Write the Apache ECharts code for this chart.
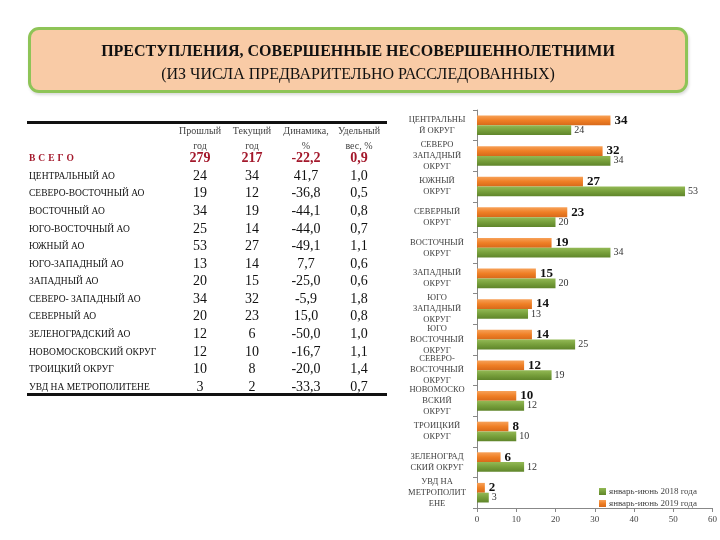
<!DOCTYPE html>
<html><head><meta charset="utf-8">
<script src="https://cdn.jsdelivr.net/npm/echarts@6/dist/echarts.min.js"></script>
<style>
html,body{margin:0;padding:0;background:#fff;}
#wrap{position:relative;width:720px;height:540px;overflow:hidden;font-family:"Liberation Serif","DejaVu Serif",serif;}
#chart{position:absolute;left:0;top:0;width:720px;height:540px;}
#title{position:absolute;left:28px;top:27px;width:654px;height:60px;border:3px solid #8ec457;border-radius:11px;background:#f9cba6;text-align:center;color:#111;box-shadow:1px 2px 3px rgba(0,0,0,0.15);}
#title .l1{position:absolute;left:0;right:0;top:12px;font-size:16px;font-weight:bold;line-height:18px;}
#title .l2{position:absolute;left:0;right:0;top:35px;font-size:16px;line-height:18px;}
#tbl{position:absolute;left:0;top:0;width:400px;height:540px;}
.hline{position:absolute;left:27px;width:360px;height:3px;background:#111;}
.cell{position:absolute;transform:translate(-50%,-50%);white-space:nowrap;}
.lab{position:absolute;left:29px;transform:translateY(-50%);white-space:nowrap;font-size:9.5px;color:#111;}
.hdr{font-size:10px;color:#444;}
.num{font-size:14px;color:#111;}
.tot{font-size:14px;color:#a3182b;font-weight:bold;}
</style></head>
<body><div id="wrap">
<div id="chart"></div>
<div id="title"><div class="l1">ПРЕСТУПЛЕНИЯ, СОВЕРШЕННЫЕ НЕСОВЕРШЕННОЛЕТНИМИ</div><div class="l2">(ИЗ ЧИСЛА ПРЕДВАРИТЕЛЬНО РАССЛЕДОВАННЫХ)</div></div>
<div id="tbl"></div>
</div>
<script>
// ---- table data ----
var tableHeaders = [["Прошлый","год"],["Текущий","год"],["Динамика,","%"],["Удельный","вес, %"]];
var totalLabel = "В С Е Г О";
var totalRow = ["279","217","-22,2","0,9"];
var tableRegions = ["ЦЕНТРАЛЬНЫЙ АО","СЕВЕРО-ВОСТОЧНЫЙ АО","ВОСТОЧНЫЙ АО","ЮГО-ВОСТОЧНЫЙ АО","ЮЖНЫЙ АО","ЮГО-ЗАПАДНЫЙ АО","ЗАПАДНЫЙ АО","СЕВЕРО- ЗАПАДНЫЙ АО","СЕВЕРНЫЙ АО","ЗЕЛЕНОГРАДСКИЙ АО","НОВОМОСКОВСКИЙ ОКРУГ","ТРОИЦКИЙ ОКРУГ","УВД НА МЕТРОПОЛИТЕНЕ"];
var tablePrev = ["24","19","34","25","53","13","20","34","20","12","12","10","3"];
var tableCurr = ["34","12","19","14","27","14","15","32","23","6","10","8","2"];
var tableDyn = ["41,7","-36,8","-44,1","-44,0","-49,1","7,7","-25,0","-5,9","15,0","-50,0","-16,7","-20,0","-33,3"];
var tableShare = ["1,0","0,5","0,8","0,7","1,1","0,6","0,6","1,8","0,8","1,0","1,1","1,4","0,7"];

// ---- chart data ----
var chartCategories = ["ЦЕНТРАЛЬНЫ\nЙ ОКРУГ","СЕВЕРО\nЗАПАДНЫЙ\nОКРУГ","ЮЖНЫЙ\nОКРУГ","СЕВЕРНЫЙ\nОКРУГ","ВОСТОЧНЫЙ\nОКРУГ","ЗАПАДНЫЙ\nОКРУГ","ЮГО\nЗАПАДНЫЙ\nОКРУГ","ЮГО\nВОСТОЧНЫЙ\nОКРУГ","СЕВЕРО-\nВОСТОЧНЫЙ\nОКРУГ","НОВОМОСКО\nВСКИЙ\nОКРУГ","ТРОИЦКИЙ\nОКРУГ","ЗЕЛЕНОГРАД\nСКИЙ ОКРУГ","УВД НА\nМЕТРОПОЛИТ\nЕНЕ"];
var series2019 = [34,32,27,23,19,15,14,14,12,10,8,6,2];
var series2018 = [24,34,53,20,34,20,13,25,19,12,10,12,3];
var name2018 = "январь-июнь 2018 года";
var name2019 = "январь-июнь 2019 года";

// ---- build table ----
(function(){
  var t = document.getElementById('tbl');
  function add(html){ t.insertAdjacentHTML('beforeend', html); }
  var colX = [200, 252, 306, 359];
  add('<div class="hline" style="top:121px"></div>');
  add('<div class="hline" style="top:393px"></div>');
  tableHeaders.forEach(function(h,i){
    add('<div class="cell hdr" style="left:'+colX[i]+'px;top:130px">'+h[0]+'</div>');
    add('<div class="cell hdr" style="left:'+colX[i]+'px;top:144.5px">'+h[1]+'</div>');
  });
  add('<div class="lab" style="top:158px;color:#a3182b;font-weight:bold;letter-spacing:0.3px;">'+totalLabel+'</div>');
  totalRow.forEach(function(v,i){
    add('<div class="cell tot" style="left:'+colX[i]+'px;top:158px">'+v+'</div>');
  });
  var y0 = 175.8, dy = 17.58;
  tableRegions.forEach(function(r,k){
    var y = y0 + k*dy;
    add('<div class="lab" style="top:'+y+'px">'+r+'</div>');
    [tablePrev[k],tableCurr[k],tableDyn[k],tableShare[k]].forEach(function(v,i){
      add('<div class="cell num" style="left:'+colX[i]+'px;top:'+y+'px">'+v+'</div>');
    });
  });
})();

// ---- chart ----
var chart = echarts.init(document.getElementById('chart'), null, {renderer:'canvas'});
var ff = '"Liberation Serif", serif';
var orangeGrad = new echarts.graphic.LinearGradient(0,0,0,1,[{offset:0,color:'#f7a158'},{offset:0.5,color:'#ef7f25'},{offset:1,color:'#d7691a'}]);
var greenGrad = new echarts.graphic.LinearGradient(0,0,0,1,[{offset:0,color:'#93b955'},{offset:0.5,color:'#779f3b'},{offset:1,color:'#5f852a'}]);
chart.setOption({
  animation:false,
  backgroundColor:'transparent',
  grid:{left:477, right:7, top:110, bottom:32, containLabel:false},
  legend:{
    orient:'vertical', left:594, top:482, itemWidth:7, itemHeight:7, itemGap:3,
    data:[{name:name2018, icon:'rect'},{name:name2019, icon:'rect'}],
    textStyle:{fontFamily:ff, fontSize:9, color:'#444', padding:[0,0,0,-2]}
  },
  xAxis:{
    type:'value', min:0, max:60, interval:10,
    axisLine:{show:true, lineStyle:{color:'#888', width:1}},
    axisTick:{show:true, length:4, lineStyle:{color:'#888'}},
    splitLine:{show:false},
    axisLabel:{fontFamily:ff, fontSize:9, color:'#444', margin:7}
  },
  yAxis:{
    type:'category', inverse:true, data:chartCategories,
    axisLine:{show:true, lineStyle:{color:'#888', width:1}},
    axisTick:{show:true, length:4, lineStyle:{color:'#888'}},
    axisLabel:{fontFamily:ff, fontSize:8.5, color:'#404040', lineHeight:11, align:'center', margin:40}
  },
  series:[
    {name:name2019, type:'bar', data:series2019, barGap:'0%', barCategoryGap:'36%',
     itemStyle:{color:orangeGrad},
     label:{show:true, position:'right', distance:4, fontFamily:ff, fontSize:13, fontWeight:'bold', color:'#111'}},
    {name:name2018, type:'bar', data:series2018, barGap:'0%', barCategoryGap:'36%',
     itemStyle:{color:greenGrad},
     label:{show:true, position:'right', distance:3, fontFamily:ff, fontSize:10, color:'#333'}}
  ]
});
</script>
</body></html>
